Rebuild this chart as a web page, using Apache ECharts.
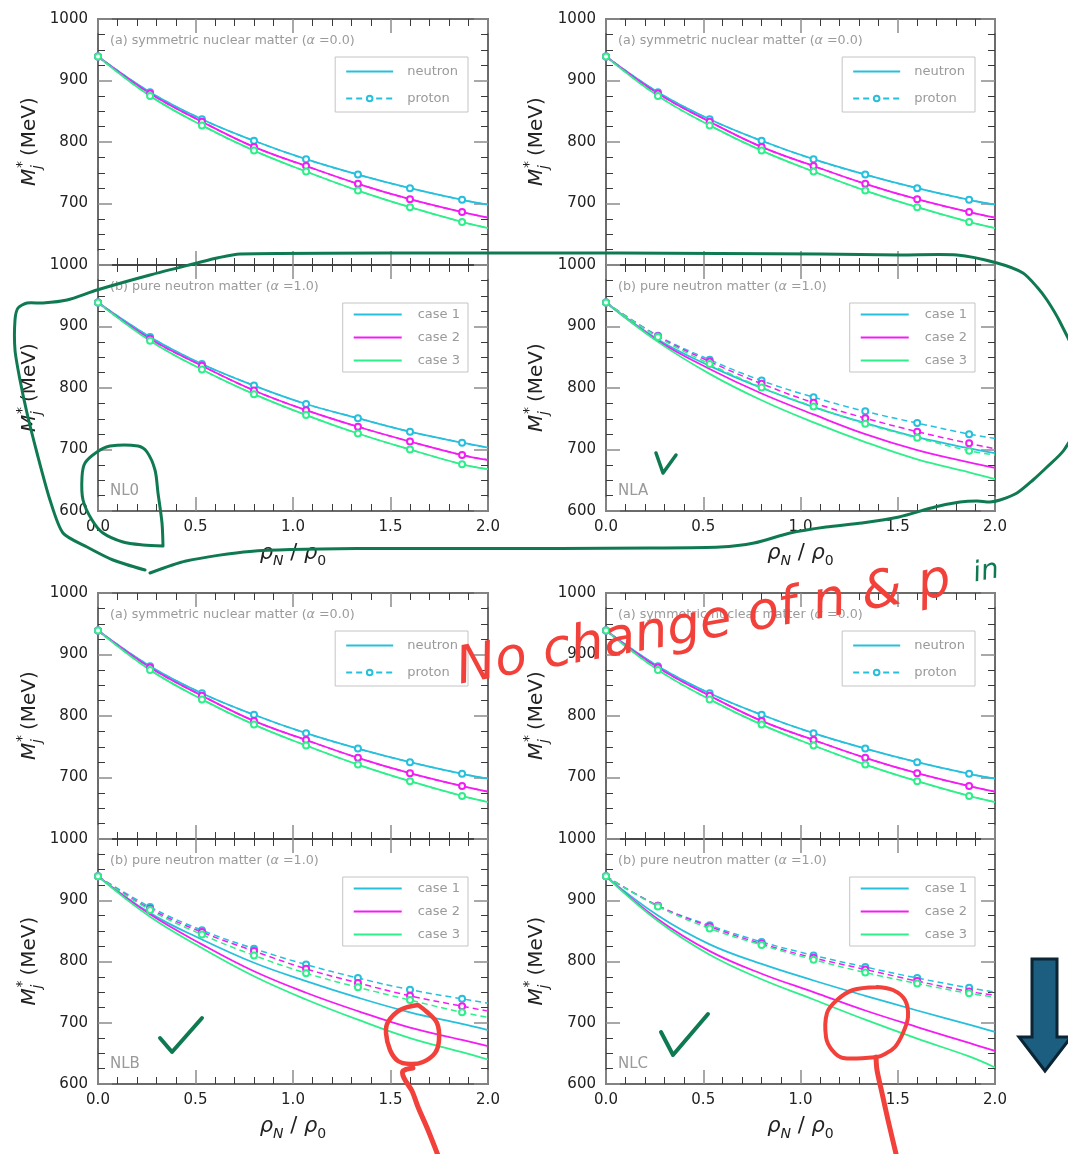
<!DOCTYPE html>
<html>
<head>
<meta charset="utf-8">
<title>Effective nucleon mass</title>
<script src="https://cdn.jsdelivr.net/npm/echarts@6/dist/echarts.min.js"></script>
<style>
  html, body { margin: 0; padding: 0; background: #ffffff; }
  #chart { width: 1068px; height: 1154px; }
</style>
</head>
<body>
<div id="chart"></div>
<script>
// ---------------------------------------------------------------
// Data: effective mass M*_j (MeV) versus density rho_N / rho_0
// ---------------------------------------------------------------
const DENSITY = [0, 0.267, 0.533, 0.8, 1.067, 1.333, 1.6, 1.867, 2.0];
const X_TICKS = [0, 0.5, 1.0, 1.5, 2.0];
const Y_TICKS = [600, 700, 800, 900, 1000];

const MODELS = ['NL0', 'NLA', 'NLB', 'NLC'];
const CASES = ['case 1', 'case 2', 'case 3'];
const SPECIES = ['neutron', 'proton'];
const TITLE_SNM = '(a) symmetric nuclear matter ({g|α} =0.0)';
const TITLE_PNM = '(b) pure neutron matter ({g|α} =1.0)';

// symmetric nuclear matter: neutron and proton masses coincide
const SNM_CASE1 = [939, 881, 837, 802, 772, 747, 725, 706, 698];
const SNM_CASE2 = [939, 879, 833, 792, 761, 732, 707, 686, 677];
const SNM_CASE3 = [939, 875, 827, 786, 752, 721, 694, 670, 660];

// pure neutron matter, rows = case 1..3
const NL0_NEUTRON = [
  [939, 883, 839, 804, 774, 751, 729, 711, 703],
  [939, 880, 836, 796, 764, 737, 713, 691, 683],
  [939, 877, 830, 790, 756, 726, 700, 676, 668]
];
const NL0_PROTON = [
  [939, 883, 839, 804, 774, 751, 729, 711, 703],
  [939, 880, 836, 796, 764, 737, 713, 691, 683],
  [939, 877, 830, 790, 756, 726, 700, 676, 668]
];
const NLA_NEUTRON = [
  [939, 879, 836, 800, 769, 743, 720, 702, 694],
  [939, 877, 831, 791, 757, 725, 699, 679, 670],
  [939, 875, 823, 780, 744, 712, 684, 663, 652]
];
const NLA_PROTON = [
  [939, 885, 846, 812, 785, 762, 743, 725, 718],
  [939, 884, 843, 807, 776, 751, 729, 710, 701],
  [939, 883, 839, 801, 770, 742, 719, 698, 691]
];
const NLB_NEUTRON = [
  [939, 879, 836, 798, 768, 741, 717, 698, 688],
  [939, 877, 828, 784, 749, 719, 692, 672, 662],
  [939, 873, 822, 776, 738, 705, 675, 652, 640]
];
const NLB_PROTON = [
  [939, 889, 851, 821, 795, 773, 754, 739, 732],
  [939, 886, 848, 817, 788, 765, 744, 727, 719],
  [939, 884, 844, 810, 781, 758, 737, 717, 709]
];
const NLC_NEUTRON = [
  [939, 875, 828, 796, 769, 744, 720, 697, 685],
  [939, 869, 817, 780, 750, 720, 693, 667, 654],
  [939, 866, 811, 771, 738, 705, 674, 645, 627]
];
const NLC_PROTON = [
  [939, 891, 859, 832, 810, 791, 773, 757, 750],
  [939, 891, 857, 829, 806, 787, 768, 751, 745],
  [939, 890, 854, 827, 803, 782, 764, 748, 742]
];

const SNM = [SNM_CASE1, SNM_CASE2, SNM_CASE3];
const PNM = {
  NL0: [NL0_NEUTRON, NL0_PROTON],
  NLA: [NLA_NEUTRON, NLA_PROTON],
  NLB: [NLB_NEUTRON, NLB_PROTON],
  NLC: [NLC_NEUTRON, NLC_PROTON]
};

// ---------------------------------------------------------------
// Styling and layout
// ---------------------------------------------------------------
const FONT = 'DejaVu Sans';
const CASE_COLORS = ['#26c0dc', '#f41cf4', '#2eef8a'];
const FRAME = '#3a3a3a';
const NOTE_GREY = '#9a9a9a';
const INK_GREEN = '#0f7a52';
const INK_RED = '#f2403a';
const NO_MARKER = { color: 'rgba(0,0,0,0)', borderColor: 'rgba(0,0,0,0)', borderWidth: 0, opacity: 0 };

const COLS = [{ left: 98, width: 390 }, { left: 606, width: 389 }];
const ROWS = [
  { top: 19, height: 246 }, { top: 265, height: 246 },
  { top: 593, height: 246 }, { top: 839, height: 245 }
];

const grids = [], xAxes = [], yAxes = [], series = [], legends = [], graphics = [];

function tickStyle(split) {
  return {
    axisLine: { show: true, onZero: false, lineStyle: { color: FRAME, width: 1.5 } },
    axisTick: { show: true, inside: true, length: 14, lineStyle: { color: '#8c8c8c', width: 1.5 } },
    minorTick: { show: true, splitNumber: split, length: 7, lineStyle: { color: FRAME, width: 1 } },
    splitLine: { show: false },
    minorSplitLine: { show: false }
  };
}

function curve(name, p, ys, color, dashed) {
  const last = DENSITY.length - 1;
  return {
    type: 'line',
    name: name,
    xAxisIndex: 2 * p,
    yAxisIndex: 2 * p,
    data: DENSITY.map((x, i) => i === last ? { value: [x, ys[i]], symbol: 'none' } : [x, ys[i]]),
    smooth: 0.4,
    symbol: dashed ? 'emptyCircle' : 'none',
    showSymbol: dashed,
    showAllSymbol: true,
    symbolSize: 6,
    lineStyle: { color: color, width: dashed ? 1.5 : 1.8, type: dashed ? [6, 4] : 'solid' },
    itemStyle: { color: color, borderWidth: 1.4 },
    z: dashed ? 3 : 2,
    silent: true,
    animation: false
  };
}

function massTitle(cx, cy) {
  const base = { fontFamily: FONT, fill: '#222', align: 'left', verticalAlign: 'middle',
                 textAlign: 'left', textVerticalAlign: 'middle' };
  return {
    type: 'group', x: cx, y: cy, rotation: Math.PI / 2, z: 50,
    children: [
      { type: 'text', x: -44, y: 0, style: Object.assign({}, base, { text: 'M', fontSize: 20, fontStyle: 'italic' }) },
      { type: 'text', x: -26, y: -8, style: Object.assign({}, base, { text: '*', fontSize: 14 }) },
      { type: 'text', x: -27, y: 7, style: Object.assign({}, base, { text: 'j', fontSize: 14, fontStyle: 'italic' }) },
      { type: 'text', x: -14, y: 0, style: Object.assign({}, base, { text: '(MeV)', fontSize: 20 }) }
    ]
  };
}

function note(x, y, text, size) {
  return {
    type: 'text', x: x, y: y, z: 40,
    style: {
      text: text, fontFamily: FONT, fontSize: size, fill: NOTE_GREY,
      align: 'left', verticalAlign: 'middle', textAlign: 'left', textVerticalAlign: 'middle',
      rich: { g: { fontFamily: FONT, fontSize: size, fontStyle: 'italic', fill: NOTE_GREY, color: NOTE_GREY } }
    }
  };
}

MODELS.forEach((model, q) => {
  const col = q % 2;
  const pair = q >> 1;
  [0, 1].forEach(s => {
    const p = q * 2 + s;
    const row = ROWS[pair * 2 + s];
    const box = COLS[col];
    grids.push({ left: box.left, width: box.width, top: row.top, height: row.height,
                 containLabel: false, outerBoundsMode: 'none' });

    const xBase = Object.assign({
      type: 'value', gridIndex: p,
      min: X_TICKS[0], max: X_TICKS[X_TICKS.length - 1], interval: X_TICKS[1] - X_TICKS[0]
    }, tickStyle(5));
    xAxes.push(Object.assign({}, xBase, {
      position: 'bottom',
      axisLabel: { show: s === 1, formatter: v => v.toFixed(1), fontFamily: FONT, fontSize: 15,
                   color: '#222', margin: 9 },
      name: s === 1 ? '{i|ρ}{s|N}{t| / }{i|ρ}{u|0}' : '',
      nameLocation: 'middle',
      nameGap: 29,
      nameTextStyle: {
        rich: {
          i: { fontFamily: FONT, fontSize: 21, fontStyle: 'italic', color: '#222', lineHeight: 28 },
          t: { fontFamily: FONT, fontSize: 21, color: '#222', lineHeight: 28 },
          s: { fontFamily: FONT, fontSize: 14, fontStyle: 'italic', color: '#222', lineHeight: 14, verticalAlign: 'bottom' },
          u: { fontFamily: FONT, fontSize: 14, color: '#222', lineHeight: 14, verticalAlign: 'bottom' }
        }
      }
    }));
    xAxes.push(Object.assign({}, xBase, { position: 'top', axisLabel: { show: false } }));

    const yBase = Object.assign({
      type: 'value', gridIndex: p,
      min: Y_TICKS[0], max: Y_TICKS[Y_TICKS.length - 1], interval: Y_TICKS[1] - Y_TICKS[0]
    }, tickStyle(4));
    yAxes.push(Object.assign({}, yBase, {
      position: 'left',
      axisLabel: { show: true, showMinLabel: s === 1, formatter: v => String(v),
                   fontFamily: FONT, fontSize: 15, color: '#222', margin: 10 }
    }));
    yAxes.push(Object.assign({}, yBase, { position: 'right', axisLabel: { show: false } }));

    // curves: solid = neutron, dashed with circles = proton
    const tables = s === 0 ? [SNM, SNM] : PNM[model];
    CASES.forEach((cname, c) => {
      const color = CASE_COLORS[c];
      let nName = `${model}-${s}-${c}-n`;
      let pName = `${model}-${s}-${c}-p`;
      if (q === 0 && s === 0 && c === 0) { nName = SPECIES[0]; pName = SPECIES[1]; }
      if (q === 0 && s === 1) { nName = cname; }
      series.push(curve(nName, p, tables[0][c], color, false));
      series.push(curve(pName, p, tables[1][c], color, true));
    });

    // legend box in the upper right corner of each panel
    const legendRight = 1068 - (box.left + box.width) + 20;
    legends.push(s === 0 ? {
      data: [{ name: SPECIES[0], itemStyle: NO_MARKER }, { name: SPECIES[1] }],
      orient: 'vertical', right: legendRight, top: row.top + 38,
      itemWidth: 47, itemHeight: 7, itemGap: 14, padding: [8, 10, 7, 10],
      borderColor: '#c4c4c4', borderWidth: 1, borderRadius: 0, backgroundColor: '#ffffff',
      selectedMode: false, z: 20,
      textStyle: { color: NOTE_GREY, fontFamily: FONT, fontSize: 13, padding: [0, 0, 0, 9] }
    } : {
      data: CASES.map(n => ({ name: n, itemStyle: NO_MARKER })),
      orient: 'vertical', right: legendRight, top: row.top + 38,
      itemWidth: 48, itemHeight: 10, itemGap: 10, padding: [5, 8, 5, 10],
      borderColor: '#c4c4c4', borderWidth: 1, borderRadius: 0, backgroundColor: '#ffffff',
      selectedMode: false, z: 20,
      textStyle: { color: NOTE_GREY, fontFamily: FONT, fontSize: 13, padding: [0, 0, 0, 11] }
    });

    graphics.push(note(box.left + 12, row.top + 22, s === 0 ? TITLE_SNM : TITLE_PNM, 12.7));
    if (s === 1) graphics.push(note(box.left + 12, row.top + row.height - 20, model, 15));
    graphics.push(massTitle(col === 0 ? 30 : 537, row.top + row.height / 2));
  });
});

// ---------------------------------------------------------------
// Hand-drawn markup on top of the figure
// ---------------------------------------------------------------
function ink(points, color, width, smooth) {
  return {
    type: 'polyline', z: 100, silent: true,
    shape: { points: points, smooth: smooth },
    style: { stroke: color, lineWidth: width, fill: null, lineCap: 'round', lineJoin: 'round' }
  };
}

// outline around the NL0 / NLA pure-neutron panels
graphics.push(ink([
  [145, 570], [113, 560], [87, 547], [63, 533], [50, 500], [37, 453], [27, 413], [20, 380],
  [15, 350], [15, 320], [18, 308], [27, 303], [43, 303], [67, 300], [97, 290], [150, 275],
  [197, 263], [217, 258], [240, 254], [420, 253], [620, 253], [820, 254], [900, 255],
  [957, 255], [997, 263], [1023, 273], [1037, 287], [1047, 300], [1060, 322], [1082, 370],
  [1085, 410], [1064, 450], [1047, 467], [1033, 480], [1017, 493], [1000, 500], [990, 502],
  [977, 501], [960, 502], [935, 507], [899, 517], [862, 523], [826, 527], [790, 533],
  [754, 543], [720, 547], [650, 548], [560, 548.5], [357, 548.6], [250, 551.4], [186, 561], [150, 573]
], INK_GREEN, 3, 0.25));
// loop around the NL0 tag
graphics.push(ink([
  [163, 546], [162, 523], [158, 493], [155, 470], [147, 452], [138, 446], [110, 446],
  [97, 452], [85, 463], [82, 477], [83, 500], [92, 520], [103, 533], [123, 542], [143, 545], [163, 546]
], INK_GREEN, 3, 0.3));
// tick marks
graphics.push(ink([[656, 453], [663, 473], [676, 455]], INK_GREEN, 3.5, 0));
graphics.push(ink([[160, 1038], [172, 1052], [202, 1018]], INK_GREEN, 4, 0));
graphics.push(ink([[661, 1032], [673, 1055], [708, 1014]], INK_GREEN, 4, 0));

// red circles with leaders
graphics.push(ink([
  [418, 1005], [400, 1010], [388, 1022], [386, 1033], [390, 1050], [398, 1061], [410, 1064],
  [423, 1062], [435, 1053], [439, 1040], [437, 1023], [427, 1012], [418, 1005]
], INK_RED, 4.5, 0.35));
graphics.push(ink([
  [413, 1068], [403, 1071], [404, 1078], [412, 1091], [418, 1107], [428, 1130], [439, 1158]
], INK_RED, 5, 0.3));
graphics.push(ink([
  [877, 987], [893, 990], [905, 1000], [908, 1017], [903, 1033], [895, 1047], [885, 1054],
  [877, 1057], [843, 1058], [832, 1050], [826, 1037], [827, 1013], [837, 1000], [853, 990], [877, 987]
], INK_RED, 4, 0.3));
graphics.push(ink([
  [876, 1057], [877, 1070], [882, 1093], [888, 1120], [897, 1158]
], INK_RED, 5, 0.3));

// handwritten remark
graphics.push({
  type: 'text', x: 462, y: 696, rotation: 0.18, z: 100, silent: true,
  style: { text: 'No change of n & p', fontFamily: FONT, fontSize: 52, fontStyle: 'italic',
           fill: INK_RED, align: 'left', verticalAlign: 'bottom', textAlign: 'left', textVerticalAlign: 'bottom' }
});
graphics.push({
  type: 'text', x: 976, y: 588, rotation: 0.17, z: 100, silent: true,
  style: { text: 'in', fontFamily: FONT, fontSize: 28, fontStyle: 'italic',
           fill: INK_GREEN, align: 'left', verticalAlign: 'bottom', textAlign: 'left', textVerticalAlign: 'bottom' }
});

// downward arrow at the right margin
graphics.push({
  type: 'polygon', z: 100, silent: true,
  shape: { points: [[1032, 959], [1057, 959], [1057, 1037], [1071, 1037], [1045, 1071], [1019, 1037], [1032, 1037]] },
  style: { fill: '#1b5e7f', stroke: '#0b2535', lineWidth: 3, lineJoin: 'miter' }
});

const chart = echarts.init(document.getElementById('chart'), null, { renderer: 'canvas' });
chart.setOption({
  backgroundColor: '#ffffff',
  animation: false,
  grid: grids,
  xAxis: xAxes,
  yAxis: yAxes,
  legend: legends,
  series: series,
  graphic: graphics
});
</script>
</body>
</html>
